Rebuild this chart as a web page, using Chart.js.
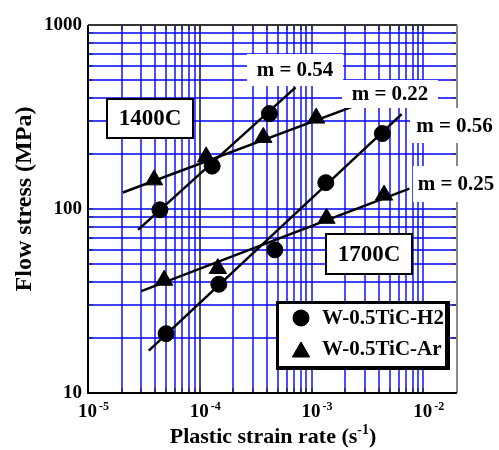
<!DOCTYPE html>
<html lang="en">
<head>
<meta charset="UTF-8">
<title>Flow stress vs plastic strain rate</title>
<script src="https://cdn.jsdelivr.net/npm/chart.js"></script>
<style>
  html, body { margin: 0; padding: 0; background: #fff; }
</style>
</head>
<body>
<canvas id="flowChart" width="499" height="450"></canvas>
<script>
// measured points (strain rate in 1/s, flow stress in MPa)
const h2Rate1400 = [4.4e-5, 1.29e-4, 4.2e-4];
const h2Stress1400 = [99, 171, 330];
const arRate1400 = [3.9e-5, 1.14e-4, 3.7e-4, 1.1e-3];
const arStress1400 = [144, 192, 245, 312];
const h2Rate1700 = [5.0e-5, 1.48e-4, 4.7e-4, 1.34e-3, 4.3e-3];
const h2Stress1700 = [21, 39, 60, 139, 257];
const arRate1700 = [4.8e-5, 1.45e-4, 1.36e-3, 4.45e-3];
const arStress1700 = [41, 47.5, 89, 119];

// fitted power-law lines, end points
const fitH2Rate1400 = [2.8e-5, 7.2e-4];
const fitH2Stress1400 = [77, 458];
const fitArRate1400 = [2.05e-5, 2.4e-3];
const fitArStress1400 = [123, 362];
const fitH2Rate1700 = [3.5e-5, 6.4e-3];
const fitH2Stress1700 = [17, 328];
const fitArRate1700 = [3.0e-5, 7.5e-3];
const fitArStress1700 = [35.8, 129];

// axes
const xMin = 1e-5, xMax = 2e-2;
const yMin = 10, yMax = 1000;
const xTickValues = [1e-5, 1e-4, 1e-3, 1e-2];
const xTickExponents = ['-5', '-4', '-3', '-2'];
const yTickValues = [10, 100, 1000];
const yTickLabels = ['10', '100', '1000'];
const slopeLabels = ['m = 0.54', 'm = 0.22', 'm = 0.56', 'm = 0.25'];
const tempLabels = ['1400C', '1700C'];
const seriesNames = ['W-0.5TiC-H2', 'W-0.5TiC-Ar'];

function decadeGrid(lo, hi) {
  const out = [];
  for (let e = Math.round(Math.log10(lo)); e <= Math.round(Math.log10(hi)); e++) {
    for (let m = 1; m <= 9; m++) {
      const v = Number(m + 'e' + e);
      if (v >= lo && v <= hi) out.push(v);
    }
  }
  return out;
}
const xGrid = decadeGrid(xMin, xMax);
const yGrid = decadeGrid(yMin, yMax);

const pts = (xs, ys) => xs.map((x, i) => ({ x: x, y: ys[i] }));
const SERIF = '"Liberation Serif", "Times New Roman", serif';

function fitLine(xs, ys) {
  return { data: pts(xs, ys), showLine: true, borderColor: '#000', borderWidth: 2.5,
           pointRadius: 0, fill: false };
}
function markers(xs, ys, style, r) {
  return { data: pts(xs, ys), showLine: false, pointStyle: style, pointRadius: r,
           backgroundColor: '#000', borderColor: '#000', borderWidth: 1 };
}

function boxText(ctx, text, x0, y0, x1, y1, size, border) {
  ctx.save();
  ctx.fillStyle = '#fff';
  ctx.fillRect(x0, y0, x1 - x0, y1 - y0);
  if (border) {
    ctx.strokeStyle = '#000';
    ctx.lineWidth = border;
    ctx.strokeRect(x0, y0, x1 - x0, y1 - y0);
  }
  ctx.fillStyle = '#000';
  ctx.font = 'bold ' + size + 'px ' + SERIF;
  ctx.textAlign = 'center';
  ctx.textBaseline = 'middle';
  ctx.fillText(text, (x0 + x1) / 2, (y0 + y1) / 2 + 1);
  ctx.restore();
}

const overlay = {
  id: 'overlay',
  beforeDatasetsDraw(chart) {
    const ctx = chart.ctx;
    const a = chart.chartArea;
    const xs = chart.scales.x, ys = chart.scales.y;
    ctx.save();
    // blue grid, every 1..9 of each decade
    ctx.lineWidth = 1.4;
    xGrid.forEach(v => {
      const px = Math.round(xs.getPixelForValue(v));
      ctx.strokeStyle = v === 1e-4 ? '#000' : '#0000ff';
      ctx.beginPath(); ctx.moveTo(px, a.top); ctx.lineTo(px, a.bottom); ctx.stroke();
    });
    ctx.strokeStyle = '#0000ff';
    yGrid.forEach(v => {
      const py = Math.round(ys.getPixelForValue(v));
      ctx.beginPath(); ctx.moveTo(a.left, py); ctx.lineTo(a.right, py); ctx.stroke();
    });
    // inner tick marks
    ctx.lineWidth = 1.2;
    ctx.strokeStyle = '#222';
    ctx.beginPath();
    xGrid.forEach(v => {
      const px = Math.round(xs.getPixelForValue(v));
      ctx.moveTo(px, a.bottom); ctx.lineTo(px, a.bottom - 5);
      ctx.moveTo(px, a.top); ctx.lineTo(px, a.top + 5);
    });
    yGrid.forEach(v => {
      const py = Math.round(ys.getPixelForValue(v));
      ctx.moveTo(a.left, py); ctx.lineTo(a.left + 5, py);
      ctx.moveTo(a.right, py); ctx.lineTo(a.right - 5, py);
    });
    ctx.stroke();
    // frame
    ctx.lineWidth = 2;
    ctx.strokeStyle = '#333';
    ctx.beginPath(); ctx.moveTo(a.left, a.top); ctx.lineTo(a.right, a.top); ctx.stroke();
    ctx.strokeStyle = '#888';
    ctx.beginPath(); ctx.moveTo(a.right, a.top); ctx.lineTo(a.right, a.bottom); ctx.stroke();
    ctx.strokeStyle = '#000';
    ctx.beginPath();
    ctx.moveTo(a.left, a.top); ctx.lineTo(a.left, a.bottom); ctx.lineTo(a.right, a.bottom);
    ctx.stroke();
    ctx.restore();
  },
  afterDatasetsDraw(chart) {
    const ctx = chart.ctx;
    // slope labels on white patches
    boxText(ctx, slopeLabels[0], 247, 54, 343, 86, 21, 0);
    boxText(ctx, slopeLabels[1], 342, 80, 438, 108, 21, 0);
    boxText(ctx, slopeLabels[2], 410, 108, 499, 143, 21, 0);
    boxText(ctx, slopeLabels[3], 413, 166, 499, 202, 21, 0);
    // temperature boxes
    boxText(ctx, tempLabels[0], 107, 99, 193, 138, 23, 2);
    boxText(ctx, tempLabels[1], 326, 234, 412, 274, 23, 2);

    // legend
    ctx.save();
    ctx.fillStyle = '#000';
    ctx.fillRect(276, 301, 174, 69);
    ctx.fillStyle = '#fff';
    ctx.fillRect(279, 304, 166, 62);
    ctx.fillStyle = '#000';
    ctx.strokeStyle = '#000';
    Chart.helpers.drawPoint(ctx, { pointStyle: 'circle', radius: 8, borderWidth: 1 }, 301, 318);
    ctx.fill();
    Chart.helpers.drawPoint(ctx, { pointStyle: 'triangle', radius: 10, borderWidth: 1 }, 301, 352);
    ctx.fill();
    ctx.font = 'bold 21px ' + SERIF;
    ctx.textBaseline = 'middle';
    ctx.textAlign = 'left';
    ctx.fillText(seriesNames[0], 322, 319);
    ctx.fillText(seriesNames[1], 322, 350);
    ctx.restore();
  },
  afterDraw(chart) {
    const ctx = chart.ctx;
    const a = chart.chartArea;
    const xs = chart.scales.x, ys = chart.scales.y;
    ctx.save();
    // tick labels
    ctx.fillStyle = '#000';
    ctx.textBaseline = 'middle';
    ctx.textAlign = 'right';
    ctx.font = 'bold 19px ' + SERIF;
    yTickValues.forEach((v, i) => {
      ctx.fillText(yTickLabels[i], a.left - 6, ys.getPixelForValue(v));
    });
    ctx.textAlign = 'left';
    ctx.textBaseline = 'alphabetic';
    xTickValues.forEach((v, i) => {
      const px = xs.getPixelForValue(v);
      ctx.font = 'bold 19px ' + SERIF;
      ctx.fillText('10', px - 10, 417);
      ctx.font = 'bold 12px ' + SERIF;
      ctx.fillText(xTickExponents[i], px + 11, 410);
    });

    // axis titles
    ctx.font = 'bold 22px ' + SERIF;
    const t1 = 'Plastic strain rate (s';
    const w1 = ctx.measureText(t1).width;
    ctx.font = 'bold 14px ' + SERIF;
    const w2 = ctx.measureText('-1').width;
    ctx.font = 'bold 22px ' + SERIF;
    const w3 = ctx.measureText(')').width;
    const tx = 273 - (w1 + w2 + w3) / 2;
    ctx.fillText(t1, tx, 443);
    ctx.font = 'bold 14px ' + SERIF;
    ctx.fillText('-1', tx + w1, 434);
    ctx.font = 'bold 22px ' + SERIF;
    ctx.fillText(')', tx + w1 + w2, 443);

    ctx.translate(25, 199);
    ctx.rotate(-Math.PI / 2);
    ctx.textAlign = 'center';
    ctx.textBaseline = 'middle';
    ctx.font = 'bold 24px ' + SERIF;
    ctx.fillText('Flow stress (MPa)', 0, 0);
    ctx.restore();
  }
};

new Chart(document.getElementById('flowChart').getContext('2d'), {
  type: 'scatter',
  data: {
    datasets: [
      fitLine(fitH2Rate1400, fitH2Stress1400),
      fitLine(fitArRate1400, fitArStress1400),
      fitLine(fitH2Rate1700, fitH2Stress1700),
      fitLine(fitArRate1700, fitArStress1700),
      markers(h2Rate1400, h2Stress1400, 'circle', 8),
      markers(arRate1400, arStress1400, 'triangle', 10),
      markers(h2Rate1700, h2Stress1700, 'circle', 8),
      markers(arRate1700, arStress1700, 'triangle', 10)
    ]
  },
  options: {
    responsive: false,
    animation: false,
    layout: { padding: { left: 88, top: 25, right: 42, bottom: 57 } },
    plugins: { legend: { display: false }, tooltip: { enabled: false } },
    scales: {
      x: {
        type: 'logarithmic', min: xMin, max: xMax,
        ticks: { display: false },
        border: { display: false },
        grid: { display: false, drawTicks: false }
      },
      y: {
        type: 'logarithmic', min: yMin, max: yMax,
        ticks: { display: false },
        border: { display: false },
        grid: { display: false, drawTicks: false }
      }
    }
  },
  plugins: [overlay]
});
</script>
</body>
</html>
